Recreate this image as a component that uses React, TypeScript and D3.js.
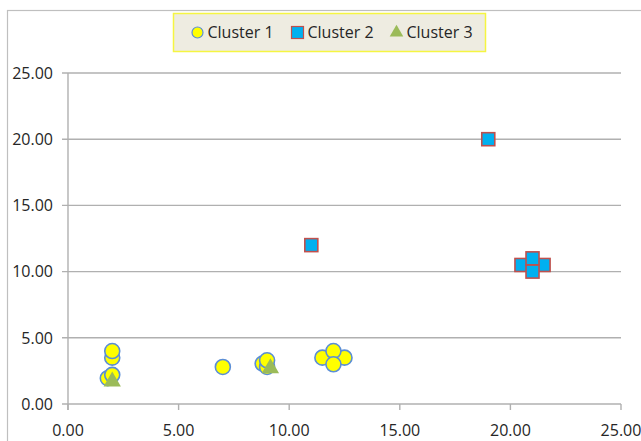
import React, { useRef, useEffect } from 'react';
import * as d3 from 'd3';

type Pt = { x: number; y: number };

// values
const cluster1: Pt[] = [
  { x: 2, y: 3.5 }, { x: 2, y: 4 }, { x: 1.8, y: 1.95 }, { x: 2, y: 2.2 },
  { x: 7, y: 2.8 },
  { x: 8.8, y: 3.05 }, { x: 9, y: 2.8 }, { x: 9, y: 3.3 },
  { x: 11.5, y: 3.5 }, { x: 12.5, y: 3.5 }, { x: 12, y: 4 }, { x: 12, y: 3 },
];
const cluster2: Pt[] = [
  { x: 19, y: 20 }, { x: 11, y: 12 },
  { x: 20.5, y: 10.5 }, { x: 21.5, y: 10.5 }, { x: 21, y: 11 }, { x: 21, y: 10 },
];
const cluster3: Pt[] = [
  { x: 2, y: 1.7 }, { x: 9.15, y: 2.7 },
];
const xTicks = [0, 5, 10, 15, 20, 25];
const yTicks = [0, 5, 10, 15, 20, 25];
const seriesNames = ['Cluster 1', 'Cluster 2', 'Cluster 3'];

const FONT = '"Open Sans", sans-serif';

const App: React.FC = () => {
  const svgRef = useRef<SVGSVGElement>(null);

  useEffect(() => {
    if (!svgRef.current) return;
    const svg = d3.select(svgRef.current);
    svg.selectAll('*').remove();

    const width = 641;
    const height = 441;

    svg.append('rect')
      .attr('x', 0).attr('y', 0).attr('width', width).attr('height', height)
      .attr('fill', '#ffffff');

    // chart frame (runs off the right and bottom)
    svg.append('rect')
      .attr('x', 7.5).attr('y', 10.5).attr('width', 700).attr('height', 500)
      .attr('fill', 'none').attr('stroke', '#bfbfbf').attr('stroke-width', 1.2);

    const x = d3.scaleLinear().domain([0, 25]).range([68, 621]);
    const y = d3.scaleLinear().domain([0, 25]).range([404, 73]);

    const grid = '#b0b0b0';

    // horizontal gridlines + y ticks
    svg.append('g')
      .selectAll('line')
      .data(yTicks)
      .join('line')
      .attr('x1', x(0) - 6).attr('x2', x(25))
      .attr('y1', (d) => y(d)).attr('y2', (d) => y(d))
      .attr('stroke', grid).attr('stroke-width', 1.4);

    // y axis line
    svg.append('line')
      .attr('x1', x(0)).attr('x2', x(0)).attr('y1', y(25)).attr('y2', y(0) + 6)
      .attr('stroke', grid).attr('stroke-width', 1.4);

    // x ticks
    svg.append('g')
      .selectAll('line')
      .data(xTicks)
      .join('line')
      .attr('x1', (d) => x(d)).attr('x2', (d) => x(d))
      .attr('y1', y(0)).attr('y2', y(0) + 6)
      .attr('stroke', grid).attr('stroke-width', 1.4);

    const fmt = d3.format('.2f');

    svg.append('g')
      .selectAll('text')
      .data(yTicks)
      .join('text')
      .attr('x', 53)
      .attr('y', (d) => y(d))
      .attr('dy', '0.36em')
      .attr('text-anchor', 'end')
      .style('font-family', FONT)
      .style('font-size', '16px')
      .attr('fill', '#262626')
      .text((d) => fmt(d));

    svg.append('g')
      .selectAll('text')
      .data(xTicks)
      .join('text')
      .attr('x', (d) => x(d))
      .attr('y', 436)
      .attr('text-anchor', 'middle')
      .style('font-family', FONT)
      .style('font-size', '16px')
      .attr('fill', '#262626')
      .text((d) => fmt(d));

    const circleStyle = { fill: '#ffff00', stroke: '#5b8ed6' };
    const squareStyle = { fill: '#00b0f0', stroke: '#c0504d' };
    const triFill = '#9bbb59';
    const tri = d3.symbol().type(d3.symbolTriangle);

    // Cluster 1
    svg.append('g')
      .selectAll('circle')
      .data(cluster1)
      .join('circle')
      .attr('cx', (d) => x(d.x)).attr('cy', (d) => y(d.y)).attr('r', 7.5)
      .attr('fill', circleStyle.fill).attr('stroke', circleStyle.stroke).attr('stroke-width', 1.6);

    // Cluster 2
    const sq = 13;
    svg.append('g')
      .selectAll('rect')
      .data(cluster2)
      .join('rect')
      .attr('x', (d) => x(d.x) - sq / 2).attr('y', (d) => y(d.y) - sq / 2)
      .attr('width', sq).attr('height', sq)
      .attr('fill', squareStyle.fill).attr('stroke', squareStyle.stroke).attr('stroke-width', 1.6);

    // Cluster 3
    svg.append('g')
      .selectAll('path')
      .data(cluster3)
      .join('path')
      .attr('transform', (d) => `translate(${x(d.x)},${y(d.y)})`)
      .attr('d', tri.size(130)())
      .attr('fill', triFill);

    // legend
    const legend = svg.append('g');
    legend.append('rect')
      .attr('x', 173.5).attr('y', 13.5).attr('width', 312).attr('height', 38)
      .attr('fill', '#eeece1').attr('stroke', '#f5f542').attr('stroke-width', 1.5);

    const itemX = [197.5, 297.5, 396.5];
    const ly = 32.5;
    seriesNames.forEach((name, i) => {
      const cx = itemX[i];
      if (i === 0) {
        legend.append('circle')
          .attr('cx', cx).attr('cy', ly).attr('r', 5.5)
          .attr('fill', circleStyle.fill).attr('stroke', circleStyle.stroke).attr('stroke-width', 1.2);
      } else if (i === 1) {
        legend.append('rect')
          .attr('x', cx - 6).attr('y', ly - 6).attr('width', 12).attr('height', 12)
          .attr('fill', squareStyle.fill).attr('stroke', squareStyle.stroke).attr('stroke-width', 1.2);
      } else {
        legend.append('path')
          .attr('transform', `translate(${cx},${ly})`)
          .attr('d', tri.size(80)())
          .attr('fill', triFill);
      }
      legend.append('text')
        .attr('x', cx + 10)
        .attr('y', ly)
        .attr('dy', '0.36em')
        .style('font-family', FONT)
        .style('font-size', '16px')
        .attr('fill', '#262626')
        .text(name);
    });
  }, []);

  return (
    <svg
      ref={svgRef}
      width={641}
      height={441}
      style={{ position: 'absolute', left: 0, top: 0, display: 'block' }}
    />
  );
};

export default App;
